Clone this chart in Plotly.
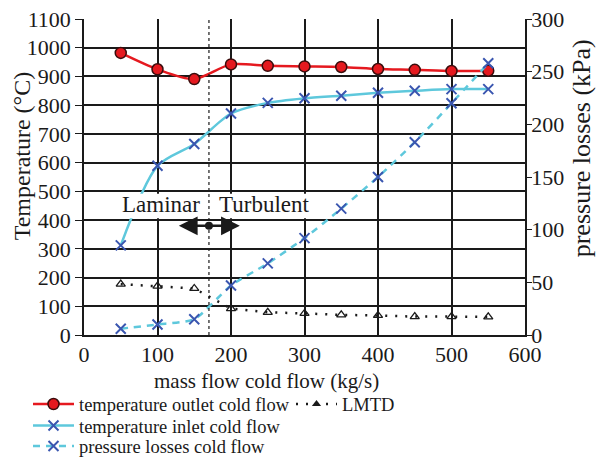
import plotly.graph_objects as go

# Cold-flow mass flow sweep (kg/s)
mass_flow = [50, 100, 150, 200, 250, 300, 350, 400, 450, 500, 550]

# Temperatures (°C) on the left axis
t_outlet = [982, 925, 891, 942, 937, 935, 933, 926, 923, 919, 920]
t_inlet = [312, 589, 665, 771, 808, 824, 833, 843, 850, 856, 856]
lmtd = [177, 170, 162, 92, 79, 75, 70, 68, 64, 64, 63]

# Pressure losses (kPa) on the right axis
p_loss = [6, 10, 15, 47, 68, 92, 120, 150, 183, 220, 258]

temp_ticks = list(range(0, 1101, 100))
press_ticks = list(range(0, 301, 50))
flow_ticks = list(range(0, 601, 100))

SERIF = "Liberation Serif, Times New Roman, serif"
RED = "#e5191f"
CYAN = "#5ec8dc"
BLUE = "#3a56b0"
INK = "#1a1a1a"
H = 457

fig = go.Figure()

fig.add_trace(go.Scatter(
    x=mass_flow, y=t_outlet, name="temperature outlet cold flow",
    mode="lines+markers", line=dict(color=RED, width=2.5, shape="spline", smoothing=0.8),
    marker=dict(symbol="circle", size=11, color=RED, line=dict(color="#3a0c0c", width=1.5)),
    legend="legend",
))
fig.add_trace(go.Scatter(
    x=mass_flow, y=t_inlet, name="temperature inlet cold flow",
    mode="lines+markers", line=dict(color=CYAN, width=2.5, shape="spline", smoothing=0.8),
    marker=dict(symbol="x-thin-open", size=10, color=BLUE, line=dict(color=BLUE, width=2)),
    legend="legend3",
))
fig.add_trace(go.Scatter(
    x=mass_flow, y=p_loss, name="pressure losses cold flow", yaxis="y2",
    mode="lines+markers", line=dict(color=CYAN, width=2.5, dash="7px,6px", shape="spline", smoothing=0.6),
    marker=dict(symbol="x-thin-open", size=10, color=BLUE, line=dict(color=BLUE, width=2)),
    legend="legend4",
))
fig.add_trace(go.Scatter(
    x=mass_flow, y=lmtd, name="LMTD", showlegend=False,
    mode="lines+markers", line=dict(color=INK, width=2.5, dash="2px,8px"),
    marker=dict(symbol="triangle-up-open", size=8, color=INK, line=dict(color=INK, width=1.3)),
))
# Legend entry for LMTD (filled triangle key)
fig.add_trace(go.Scatter(
    x=[None], y=[None], name="LMTD", legend="legend2",
    mode="lines+markers", line=dict(color=INK, width=2.5, dash="2px,8px"),
    marker=dict(symbol="triangle-up", size=8, color=INK),
))

axis_font = dict(family=SERIF, size=22, color=INK)


def legend_box(x_px, y_px):
    return dict(
        xref="container", yref="container", x=x_px / 597, y=1 - y_px / H,
        xanchor="left", yanchor="middle",
        font=dict(family=SERIF, size=18.5, color=INK),
        bgcolor="rgba(0,0,0,0)", itemwidth=41,
    )


fig.update_layout(
    width=597, height=H,
    margin=dict(l=84, r=72, t=19, b=122, autoexpand=False),
    paper_bgcolor="white", plot_bgcolor="white",
    font=dict(family=SERIF, color=INK),
    xaxis=dict(
        range=[0, 600], tickvals=flow_ticks, tickfont=axis_font,
        showgrid=True, gridcolor=INK, gridwidth=1.5,
        showline=True, linecolor=INK, linewidth=1.5,
        ticks="", ticklabelstandoff=-1, zeroline=False,
        automargin=False,
    ),
    yaxis=dict(
        range=[0, 1100], tickvals=temp_ticks, tickfont=axis_font,
        showgrid=True, gridcolor=INK, gridwidth=1.5,
        showline=True, linecolor=INK, linewidth=1.5,
        ticks="outside", ticklen=7, tickcolor=INK, zeroline=False,
        automargin=False,
    ),
    yaxis2=dict(
        range=[0, 300], tickvals=press_ticks, tickfont=axis_font,
        overlaying="y", side="right", showgrid=False,
        showline=True, linecolor=INK, linewidth=1.5,
        ticks="outside", ticklen=5, tickcolor=INK, zeroline=False,
        ticklabelstandoff=-5, automargin=False,
    ),
    legend=legend_box(28, 404.5),
    legend2=legend_box(291, 404.5),
    legend3=legend_box(28, 426),
    legend4=legend_box(28, 446.5),
)

# Axis titles
fig.add_annotation(text="mass flow cold flow (kg/s)", xref="paper", yref="paper",
                   x=(266 - 84) / 441, y=(334.7 - 381) / 316, showarrow=False,
                   xanchor="center", yanchor="middle",
                   font=dict(family=SERIF, size=21, color=INK))
fig.add_annotation(text="Temperature (°C)", xref="paper", yref="paper",
                   x=(22 - 84) / 441, y=(334.7 - 156) / 316, showarrow=False, textangle=-90,
                   xanchor="center", yanchor="middle",
                   font=dict(family=SERIF, size=24, color=INK))
fig.add_annotation(text="pressure losses (kPa)", xref="paper", yref="paper",
                   x=(581 - 84) / 441, y=(334.7 - 148) / 316, showarrow=False, textangle=-90,
                   xanchor="center", yanchor="middle",
                   font=dict(family=SERIF, size=26, color=INK))

# Laminar / turbulent transition
fig.add_shape(type="line", x0=170, x1=170, y0=0, y1=1100, xref="x", yref="y",
              line=dict(color=INK, width=1.2, dash="dot"))
# white label panels sitting between the 400 and 500 gridlines
fig.add_shape(type="rect", xref="x", yref="y", x0=52, x1=162, y0=406, y1=492,
              fillcolor="white", line=dict(width=0))
fig.add_shape(type="rect", xref="x", yref="y", x0=177, x1=312, y0=406, y1=492,
              fillcolor="white", line=dict(width=0))
fig.add_annotation(text="Laminar", x=105, y=455, xref="x", yref="y", showarrow=False,
                   font=dict(family=SERIF, size=23, color=INK))
fig.add_annotation(text="Turbulent", x=245, y=455, xref="x", yref="y", showarrow=False,
                   font=dict(family=SERIF, size=23, color=INK))
fig.add_annotation(text="", x=212, y=380, ax=127, ay=380, xref="x", yref="y",
                   axref="x", ayref="y", showarrow=True, arrowside="end+start",
                   arrowhead=2, arrowsize=1.5, arrowwidth=2.5, arrowcolor=INK)
fig.add_shape(type="circle", xref="x", yref="y", xsizemode="pixel", ysizemode="pixel",
              xanchor=170, yanchor=380, x0=-4, x1=4, y0=-4, y1=4,
              fillcolor=INK, line=dict(color=INK, width=0))

fig.write_html("out.html")
